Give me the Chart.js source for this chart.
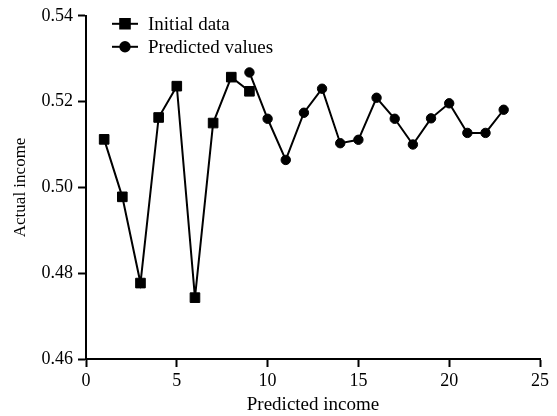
<!DOCTYPE html>
<html>
<head>
<meta charset="utf-8">
<script src="https://cdn.jsdelivr.net/npm/chart.js@4.4.0/dist/chart.umd.min.js"></script>
<style>
  html, body { margin: 0; padding: 0; background: #fff; }
  #wrap { width: 557px; height: 416px; }
</style>
</head>
<body>
<div id="wrap"><canvas id="chart"></canvas></div>
<script>
// data
var initialX = [1, 2, 3, 4, 5, 6, 7, 8, 9];
var initialY = [0.5112, 0.4978, 0.4777, 0.5163, 0.5236, 0.4743, 0.5150, 0.5257, 0.5224];
var predX = [9, 10, 11, 12, 13, 14, 15, 16, 17, 18, 19, 20, 21, 22, 23];
var predY = [0.5268, 0.5160, 0.5064, 0.5174, 0.5230, 0.5103, 0.5111, 0.5209, 0.5160, 0.5100, 0.5161, 0.5196, 0.5127, 0.5127, 0.5181];
var seriesNames = ['Initial data', 'Predicted values'];
var xTicks = [0, 5, 10, 15, 20, 25];
var yTicks = [0.46, 0.48, 0.50, 0.52, 0.54];

var FONT = "'Liberation Serif', 'Times New Roman', serif";

function toPoints(xs, ys) {
    return xs.map(function (x, i) { return { x: x, y: ys[i] }; });
}

/* ======= legend drawn inside the plot, line + marker ======= */
var innerLegend = {
    id: 'innerLegend',
    afterDraw: function (chart) {
        var ctx = chart.ctx;
        var area = chart.chartArea;
        ctx.save();
        chart.data.datasets.forEach(function (ds, i) {
            var y = area.top + 8 + i * 23;
            var x0 = area.left + 26;
            ctx.strokeStyle = '#000';
            ctx.lineWidth = 2;
            ctx.beginPath();
            ctx.moveTo(x0, y);
            ctx.lineTo(x0 + 26, y);
            ctx.stroke();
            ctx.fillStyle = '#000';
            Chart.helpers.drawPoint(ctx, {
                pointStyle: ds.pointStyle,
                radius: ds.pointRadius,
                borderWidth: 1
            }, x0 + 13, y);
            ctx.fillStyle = '#000';
            ctx.font = '19px ' + FONT;
            ctx.textAlign = 'left';
            ctx.textBaseline = 'middle';
            ctx.fillText(ds.label, x0 + 36, y + 1);
        });
        ctx.restore();
    }
};

var chart = new Chart(document.getElementById('chart'), {
    type: 'line',
    data: {
        datasets: [{
            label: seriesNames[0],
            data: toPoints(initialX, initialY),
            borderColor: '#000',
            backgroundColor: '#000',
            borderWidth: 2,
            pointStyle: 'rect',
            pointRadius: 6.8,
            pointBorderWidth: 1,
            tension: 0
        }, {
            label: seriesNames[1],
            data: toPoints(predX, predY),
            borderColor: '#000',
            backgroundColor: '#000',
            borderWidth: 2,
            pointStyle: 'circle',
            pointRadius: 4.7,
            pointBorderWidth: 1,
            tension: 0
        }]
    },
    options: {
        responsive: true,
        maintainAspectRatio: false,
        animation: false,
        layout: { padding: { top: 15, right: 17, left: 0, bottom: 0 } },
        plugins: {
            legend: { display: false },
            tooltip: { enabled: false }
        },
        scales: {
            x: {
                type: 'linear',
                min: xTicks[0],
                max: xTicks[xTicks.length - 1],
                afterBuildTicks: function (scale) {
                    scale.ticks = xTicks.map(function (v) { return { value: v }; });
                },
                afterFit: function (scale) { scale.height = 57; },
                grid: { drawOnChartArea: false, drawTicks: true, tickLength: 8, tickWidth: 2, tickColor: '#000' },
                border: { display: true, color: '#000', width: 2 },
                ticks: { color: '#000', padding: 3, maxRotation: 0, font: { family: FONT, size: 18 } },
                title: { display: true, text: 'Predicted income', color: '#000', padding: { top: 0, bottom: 0 }, font: { family: FONT, size: 19 } }
            },
            y: {
                min: yTicks[0],
                max: yTicks[yTicks.length - 1],
                afterBuildTicks: function (scale) {
                    scale.ticks = yTicks.map(function (v) { return { value: v }; });
                },
                afterFit: function (scale) { scale.width = 86; },
                grid: { drawOnChartArea: false, drawTicks: true, tickLength: 8, tickWidth: 2, tickColor: '#000' },
                border: { display: true, color: '#000', width: 2 },
                ticks: {
                    color: '#000', padding: 5, font: { family: FONT, size: 18 },
                    callback: function (v) { return Number(v).toFixed(2); }
                },
                title: { display: true, text: 'Actual income', color: '#000', padding: { top: 10, bottom: 0 }, font: { family: FONT, size: 17 } }
            }
        }
    },
    plugins: [innerLegend]
});
</script>
</body>
</html>
